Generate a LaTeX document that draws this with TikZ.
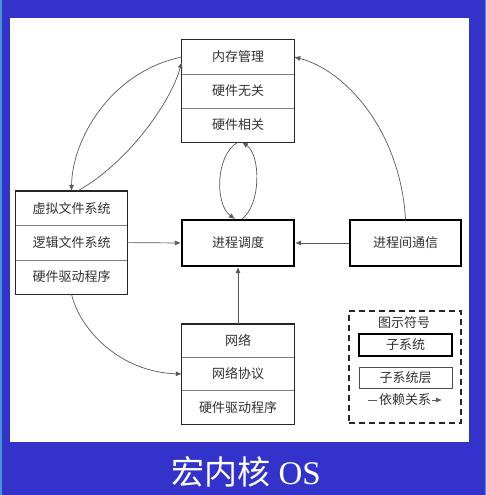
\documentclass[tikz,border=0pt]{standalone}
\usepackage{fontspec}
\setmainfont{Liberation Serif}
\newfontfamily\cjk{Noto Sans CJK SC}
\usetikzlibrary{arrows.meta}
\definecolor{slideblue}{RGB}{51,51,204}
\definecolor{edgeblue}{RGB}{70,150,215}
\definecolor{inkgray}{RGB}{50,50,50}
\tikzset{
  cell/.style={inner sep=0pt, font=\cjk\fontsize{13pt}{15pt}\selectfont, text=inkgray},
  memcell/.style={cell, minimum width=112pt, minimum height=34pt},
  vfscell/.style={cell, minimum width=111pt, minimum height=34.3pt},
  netcell/.style={cell, minimum width=112pt, minimum height=33.3pt},
  frame/.style={draw=black!85, line width=1.3pt},
  divider/.style={draw=black!50, line width=0.8pt},
  subsys/.style={cell, draw=black, line width=2.2pt, minimum height=46pt},
  legframe/.style={draw=black!85, line width=1.7pt, dash pattern=on 6pt off 4pt},
  dep/.style={draw=black!65, line width=0.7pt, -{Latex[length=6pt,width=5pt]}},
}
\begin{document}
\begin{tikzpicture}[x=1pt,y=-1pt]
\useasboundingbox (0,0) rectangle (486,495);
\fill [slideblue] (0,0) rectangle (486,495);
\fill [edgeblue] (0,0) rectangle (1.5,495);
\fill [edgeblue] (484.5,0) rectangle (486,495);
\fill [white] (10,18) rectangle (469,442);

\node [memcell] (mem1) at (238,57) {内存管理};
\node [memcell] (mem2) at (238,91) {硬件无关};
\node [memcell] (mem3) at (238,125) {硬件相关};
\draw [divider] (mem1.south west) -- (mem1.south east);
\draw [divider] (mem2.south west) -- (mem2.south east);
\draw [frame] (mem1.north west) rectangle (mem3.south east);

\node [vfscell] (vfs1) at (71.5,208.3) {虚拟文件系统};
\node [vfscell] (vfs2) at (71.5,242.6) {逻辑文件系统};
\node [vfscell] (vfs3) at (71.5,276.9) {硬件驱动程序};
\draw [divider] (vfs1.south west) -- (vfs1.south east);
\draw [divider] (vfs2.south west) -- (vfs2.south east);
\draw [frame] (vfs1.north west) rectangle (vfs3.south east);

\node [netcell] (net1) at (238,340.7) {网络};
\node [netcell] (net2) at (238,374) {网络协议};
\node [netcell] (net3) at (238,407.3) {硬件驱动程序};
\draw [divider] (net1.south west) -- (net1.south east);
\draw [divider] (net2.south west) -- (net2.south east);
\draw [frame] (net1.north west) rectangle (net3.south east);

\node [subsys, minimum width=112pt] (sched) at (238,243) {进程调度};
\node [subsys, minimum width=111pt] (ipc) at (405.5,243) {进程间通信};

\draw [dep] (mem1.west) .. controls (110,72) and (72,140) .. (vfs1.north);
\draw [dep] ([xshift=6pt]vfs1.north) .. controls (125,165) and (170,105) .. ([yshift=-5pt]mem1.west);
\draw [dep] (ipc.north) .. controls (400,130) and (345,70) .. (mem1.east);
\draw [dep] (mem3.south) .. controls (215,155) and (215,205) .. ([xshift=-3pt]sched.north);
\draw [dep] ([xshift=4pt]sched.north) .. controls (261,205) and (261,155) .. ([xshift=4pt]mem3.south);
\draw [dep] (vfs2.east) -- (sched.west);
\draw [dep] (ipc.west) -- (sched.east);
\draw [dep] (net1.north) -- (sched.south);
\draw [dep] (vfs3.south) .. controls (80,330) and (120,372) .. (net2.west);

\node [legframe, minimum width=112pt, minimum height=112pt] (legend) at (405,367) {};
\node [cell] (legtitle) at (404,323) {图示符号};
\node [cell, draw=black, line width=2.2pt, minimum width=93pt, minimum height=22pt] (legsub) at (405.5,345) {子系统};
\node [cell, draw=black!70, line width=0.8pt, minimum width=93pt, minimum height=21pt] (leglayer) at (405.5,377.5) {子系统层};
\node [cell] (legdep) at (405,400) {依赖关系};
\coordinate (depstart) at (368,400);
\coordinate (depend) at (442,400);
\draw [draw=black!65, line width=0.8pt, shorten >=2pt] (depstart) -- (legdep.west);
\draw [dep, shorten <=1pt] (legdep.east) -- (depend);

\node [text=white, inner sep=0pt, font=\fontsize{33pt}{36pt}\selectfont] (title) at (246,472) {{\cjk 宏内核} OS};
\end{tikzpicture}
\end{document}
